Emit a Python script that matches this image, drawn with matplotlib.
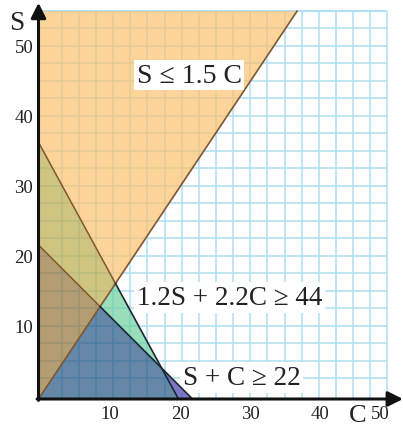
import numpy as np
import matplotlib.pyplot as plt
from matplotlib.patches import Polygon

# S <= 1.5 C
ratio = 1.5
# 1.2S + 2.2C >= 44
a2, b2, c2 = 1.2, 2.2, 44
# S + C >= 22
a3, b3, c3 = 1.0, 1.0, 22

s_top = 55.4          # top edge of the shaded sheet
xtick_vals = [10, 20, 30, 40, 50]
ytick_vals = [10, 20, 30, 40, 50]
labels = ["S \u2264 1.5 C", "1.2S + 2.2C \u2265 44", "S + C \u2265 22"]

plt.rcParams['font.family'] = ['Liberation Serif', 'DejaVu Serif']

fig = plt.figure(figsize=(4.03, 4.27), dpi=100)
ax = fig.add_axes([0, 0, 1, 1])
ax.set_xlim(-5.5, 52.07)
ax.set_ylim(-3.857, 57.14)
ax.axis('off')

# intercepts / corner points
s2_int, c2_int = c2 / a2, c2 / b2
s3_int, c3_int = c3 / a3, c3 / b3
cA = c2 / (a2 * ratio + b2)
A = (cA, ratio * cA)
cB = c3 / (a3 * ratio + b3)
B = (cB, ratio * cB)
sD, cD = np.linalg.solve([[a2, b2], [a3, b3]], [c2, c3])
D = (cD, sD)
top = (s_top / ratio, s_top)

# graph paper
gx = np.arange(3.3, 50, 2.45)
gy = np.arange(2.96, 55.5, 2.5)
ax.vlines(gx, 0, s_top, color='#aedff2', lw=1.1, zorder=1)
ax.hlines(gy, 0, gx[-1], color='#aedff2', lw=1.1, zorder=1)
ax.hlines(s_top, 0, gx[-1], color='#aedff2', lw=1.1, zorder=1)

# shaded regions (colour = overlap of the constraints)
regions = [
    ([(0, s2_int), A, top, (0, s_top)], '#fcc270'),        # orange only
    ([(0, s3_int), B, A, (0, s2_int)], '#bcac4c'),         # orange + green
    ([(0, 0), B, (0, s3_int)], '#957338'),                 # orange + green + blue
    ([B, A, D], '#6cd09e'),                                # green only
    ([(0, 0), B, D, (c2_int, 0)], '#245683'),              # green + blue
    ([D, (c3_int, 0), (c2_int, 0)], '#4541ab'),            # blue only
]
for pts, col in regions:
    ax.add_patch(Polygon(pts, closed=True, facecolor=col, alpha=0.7,
                         lw=0, zorder=2))

# boundary lines
brown = '#7f5630'
dark = '#1b2633'
ax.plot([0, top[0]], [0, top[1]], color=brown, lw=1.2, zorder=3)
ax.plot([0, A[0]], [s2_int, A[1]], color=brown, lw=1.1, zorder=3)
ax.plot([A[0], c2_int], [A[1], 0], color=dark, lw=1.2, zorder=3)
ax.plot([0, B[0]], [s3_int, B[1]], color=brown, lw=1.1, zorder=3)
ax.plot([B[0], c3_int], [B[1], 0], color=dark, lw=1.2, zorder=3)

# axes with arrows
arrow = dict(arrowstyle='-|>,head_length=0.9,head_width=0.45', lw=2.2,
             color='#111111', shrinkA=0, shrinkB=0)
ax.annotate('', xy=(52.07, 0), xytext=(-0.2, 0), arrowprops=arrow,
            annotation_clip=False, zorder=4)
ax.annotate('', xy=(0, 56.6), xytext=(0, -0.2), arrowprops=arrow,
            annotation_clip=False, zorder=4)

# tick labels
for v in xtick_vals[:-1]:
    ax.text(v + 0.25, -2.65, str(v), ha='center', va='baseline',
            fontsize=13.5, color='#222222')
ax.text(xtick_vals[-1] + 0.1, -2.65, str(xtick_vals[-1]), ha='right',
        va='baseline', fontsize=13.5, color='#222222')
for v in ytick_vals:
    ax.text(-0.75, v - 0.45, str(v), ha='right', va='baseline',
            fontsize=13.5, color='#222222')

# axis names
ax.text(-3.1, 52.86, 'S', ha='center', va='baseline', fontsize=19.5,
        color='#222222')
ax.text(45.6, -3.8, 'C', ha='center', va='bottom', fontsize=19,
        color='#222222')

# constraint labels
box = dict(boxstyle='square,pad=0.1', facecolor='white', edgecolor='none')
ax.text(14.0, 45.33, labels[0], ha='left', va='baseline', fontsize=20,
        color='#222222', bbox=box, zorder=5)
ax.text(14.0, 13.57, labels[1], ha='left', va='baseline', fontsize=19.5,
        color='#222222', bbox=box, zorder=5)
# sits just right of the small blue-only triangle: keep the box under it
ax.text(20.6, 2.14, labels[2], ha='left', va='baseline', fontsize=19.5,
        color='#222222', bbox=box, zorder=1.5)

fig.savefig('out.png', dpi=100)
